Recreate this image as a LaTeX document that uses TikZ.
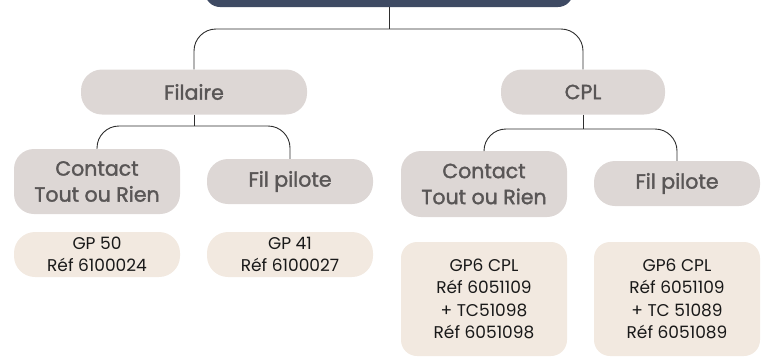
\documentclass[tikz,border=0pt]{standalone}
\usepackage{fontspec}
\setmainfont{Poppins}
\newfontfamily\headfont{Poppins}[FakeBold=1.6]
\usepackage{tikz}
\usepackage{xcolor}
\definecolor{slate}{HTML}{3E4A63}
\definecolor{greybox}{HTML}{DDD7D5}
\definecolor{greytext}{HTML}{595656}
\definecolor{creambox}{HTML}{F2E9E0}
\definecolor{wire}{HTML}{2E2E2E}

\begin{document}
\begin{tikzpicture}[x=1pt,y=-1pt,
    head/.style={fill=greybox, text=greytext, rounded corners=21pt, align=center,
      minimum height=45pt, inner sep=0pt, font=\headfont\fontsize{20.5}{26}\selectfont},
    leaf/.style={fill=creambox, text=black!90, rounded corners=21pt, align=center,
      minimum height=45pt, minimum width=166pt, inner sep=0pt, font=\fontsize{17}{22.5}\selectfont},
    wire/.style={draw=wire, line width=0.9pt, rounded corners=22pt}]
      \useasboundingbox (0,0) rectangle (767,357);
      % top box, cut by the page
      \node[fill=slate, rounded corners=15pt, minimum width=368pt, minimum height=50pt]
        (root) at (389,-18) {};
      % first level
      \node[head, minimum width=226pt] (fil) at (194,92) {Filaire};
      \node[head, minimum width=164pt] (cpl) at (583,92) {CPL};
      % second level
      \node[head, minimum width=166pt, minimum height=65pt, rounded corners=20pt]
        (tor1) at (97,181.5) {Contact\\Tout ou Rien};
      \node[head, minimum width=166pt] (pil1) at (290,181.5) {Fil pilote};
      \node[head, minimum width=166pt, minimum height=66pt, rounded corners=20pt]
        (tor2) at (484,184) {Contact\\Tout ou Rien};
      \node[head, minimum width=166pt] (pil2) at (677,183.5) {Fil pilote};
      % products
      \node[leaf] (gp50) at (97,254.5) {GP 50\\Réf 6100024};
      \node[leaf] (gp41) at (290,254.5) {GP 41\\Réf 6100027};
      \node[leaf, minimum height=114pt, rounded corners=16pt] (gp6a) at (484,299)
        {GP6 CPL\\Réf 6051109\\+ TC51098\\Réf 6051098};
      \node[leaf, minimum height=114pt, rounded corners=16pt] (gp6b) at (677,299)
        {GP6 CPL\\Réf 6051109\\+ TC 51089\\Réf 6051089};
      % connectors
      \coordinate (j0) at (root.south |- 0,29);
      \coordinate (j1) at (fil.south |- 0,126);
      \coordinate (j2) at (cpl.south |- 0,129);
      \draw[wire] (root.south) -- (j0);
      \draw[wire] (fil.north) |- (j0) -| (cpl.north);
      \draw[wire] (fil.south) -- (j1);
      \draw[wire] (tor1.north) |- (j1) -| (pil1.north);
      \draw[wire] (cpl.south) -- (j2);
      \draw[wire] (tor2.north) |- (j2) -| (pil2.north);
    \end{tikzpicture}
\end{document}
